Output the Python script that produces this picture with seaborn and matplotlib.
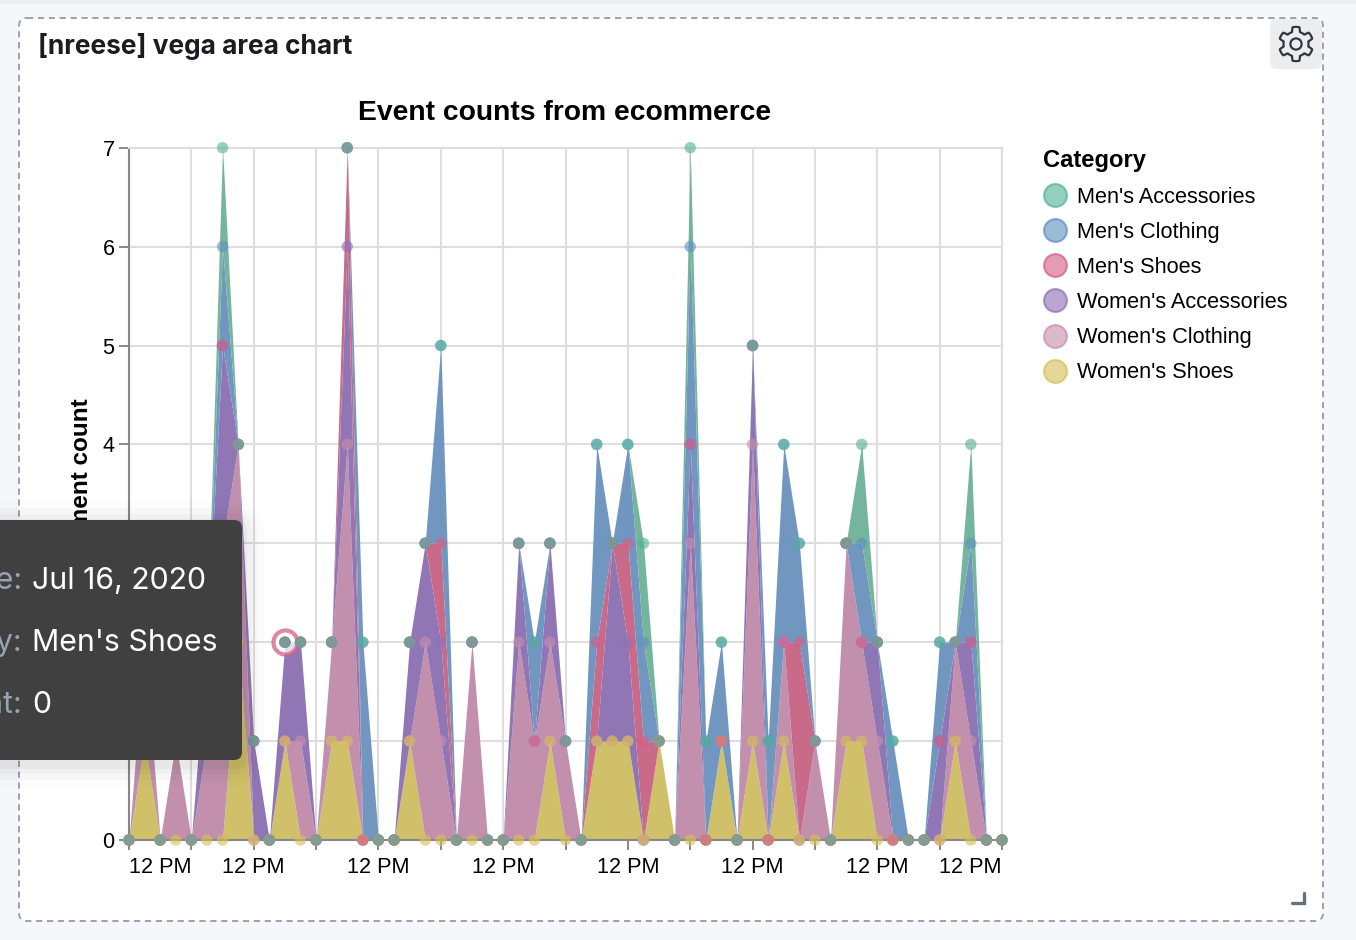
import numpy as np
import pandas as pd
import matplotlib
matplotlib.use('Agg')
import matplotlib.pyplot as plt
from matplotlib.lines import Line2D
from matplotlib.patches import FancyBboxPatch, Circle, Polygon
from matplotlib.colors import to_rgba
import seaborn as sns

categories = ["Men's Accessories", "Men's Clothing", "Men's Shoes",
              "Women's Accessories", "Women's Clothing", "Women's Shoes"]

# one value per 3 hour slot
mens_accessories = [0,0,0,0,0,0,1,0,0,0,0,0,0,0,0,0,0,0,0,0,0,0,0,0,0,0,0,0,0,0,0,0,0,1,0,0,1,0,0,0,0,0,0,0,0,0,0,1,0,0,0,0,0,0,1,0,0]
mens_clothing = [0,0,0,0,0,0,1,0,0,0,0,0,0,0,0,2,0,0,0,0,2,0,0,0,0,0,1,0,0,0,2,0,1,1,0,0,2,1,1,0,0,1,2,1,0,0,0,1,0,1,0,0,1,0,1,0,0]
mens_shoes = [0,0,0,0,0,0,0,0,0,0,0,0,0,0,1,0,0,0,0,0,1,0,0,0,0,0,0,0,0,0,1,0,1,1,0,0,0,0,0,0,0,0,0,2,0,0,0,0,0,0,0,0,0,0,0,0,0]
womens_accessories = [0,0,0,0,0,1,2,0,1,0,1,1,0,0,2,0,0,0,1,1,1,0,0,0,0,1,0,1,0,0,0,2,1,0,0,0,1,0,0,0,1,0,0,0,0,0,0,0,1,0,0,0,1,0,1,0,0]
womens_clothing = [0,1,0,1,0,1,3,2,0,0,0,1,0,1,3,0,0,0,0,2,1,0,2,0,0,2,1,1,1,0,0,0,0,0,0,0,3,0,0,0,3,0,1,0,1,0,2,1,1,0,0,0,0,1,1,0,0]
womens_shoes = [0,1,0,0,0,0,0,2,0,0,1,0,0,1,1,0,0,0,1,0,0,0,0,0,0,0,0,1,0,0,1,1,1,0,1,0,0,0,1,0,1,0,1,0,0,0,1,1,0,0,0,0,0,1,0,0,0]

xtick_slots = [0, 4, 8, 12, 16, 20, 24, 28, 32, 36, 40, 44, 48, 52, 56]
xtick_labels = ['12 PM', '', '12 PM', '', '12 PM', '', '12 PM', '', '12 PM', '', '12 PM', '', '12 PM', '', '12 PM']
ytick_values = [0, 1, 2, 3, 4, 5, 6, 7]
hover_slot = 10
hover_category = "Men's Shoes"

fill_colors = ['#70B29A', '#6C94BF', '#C96585', '#8D72B2', '#C08CAB', '#CFBE64']
dot_colors = ['#54B399', '#6092C0', '#D36086', '#9170B8', '#CA8EAE', '#D6BF57']
W, H = 1356, 940

sns.set_theme(style='white')
plt.rcParams['font.family'] = ['Liberation Sans', 'DejaVu Sans']

df = pd.DataFrame(dict(zip(categories, [mens_accessories, mens_clothing, mens_shoes,
                                        womens_accessories, womens_clothing, womens_shoes])))
stack_order = categories[::-1]
stacked = df[stack_order].cumsum(axis=1)
stacked['slot'] = df.index

# points overlap in this order, not in the stacking order
dot_order = ["Men's Clothing", "Women's Accessories", "Women's Clothing", "Women's Shoes",
             "Men's Shoes", "Men's Accessories"]
long_df = stacked.melt(id_vars='slot', value_vars=dot_order, var_name='Category', value_name='top')

fig = plt.figure(figsize=(W / 100, H / 100), dpi=100, facecolor='#F5F7FA')


def pixel_axes(zorder):
    a = fig.add_axes([0, 0, 1, 1], zorder=zorder)
    a.set_xlim(0, W)
    a.set_ylim(H, 0)
    a.axis('off')
    a.patch.set_alpha(0)
    return a


# panel behind the chart
back = pixel_axes(0)
back.add_patch(FancyBboxPatch((19, 18), 1304, 903, boxstyle='round,pad=0,rounding_size=8',
                              fc='white', ec='#98A2B3', lw=1.4, ls=(0, (3.2, 2.4))))
back.add_patch(FancyBboxPatch((1270, 19), 52, 50, boxstyle='round,pad=0,rounding_size=7',
                              fc='#EBEDF0', ec='none'))
back.plot([0, W], [2, 2], color='#EDEFF3', lw=3)
angles = np.linspace(0, 2 * np.pi, 361)
radius = 14.8 + 2.3 * np.clip(3 * np.cos(6 * (angles - np.pi / 6)), -1, 1)
back.add_patch(Polygon(np.c_[1296 + radius * np.cos(angles), 44 + radius * np.sin(angles)],
                       closed=True, fc='none', ec='#343741', lw=1.6, joinstyle='round'))
back.add_patch(Circle((1296, 44), 5.6, fc='none', ec='#343741', lw=1.6))
back.plot([1292, 1304, 1304], [903, 903, 893], color='#69707D', lw=2.4, solid_joinstyle='miter')
back.text(38, 46, '[nreese] vega area chart', fontsize=18.9, fontweight='bold', family='Inter',
          color='#1A1C21', va='center', ha='left')

ax = fig.add_axes([129 / W, 1 - 840 / H, (1002 - 129) / W, (840 - 147.7) / H], zorder=1)
ax.patch.set_alpha(0)
ax.set_axisbelow(True)
ax.grid(True, color='#DEDEDE', lw=1.5)

for i, cat in enumerate(stack_order):
    lower = stacked[stack_order[i - 1]] if i else 0 * stacked[cat]
    ax.fill_between(stacked['slot'], lower, stacked[cat], color=fill_colors[categories.index(cat)],
                    lw=0, alpha=0.97, zorder=2)

hover_top = stacked.loc[hover_slot, hover_category]
ax.scatter([hover_slot], [hover_top], s=300, fc=to_rgba('white', 0.75), ec=to_rgba(dot_colors[2], 0.75),
           lw=3, clip_on=False, zorder=3)

sns.scatterplot(data=long_df, x='slot', y='top', hue='Category', hue_order=dot_order,
                palette=dict(zip(categories, dot_colors)), s=68, alpha=0.62, linewidth=0,
                legend=False, clip_on=False, zorder=4, ax=ax)

ax.set_xlim(0, 56)
ax.set_ylim(0, 7)
ax.set_xticks(xtick_slots)
ax.set_xticklabels(xtick_labels)
ax.set_yticks(ytick_values)
ax.set_yticklabels([str(v) for v in ytick_values])
ax.tick_params(axis='both', length=7.2, width=1.4, color='#888888', labelsize=15.6, labelcolor='black',
               left=True, bottom=True)
ax.tick_params(axis='x', pad=5)
ax.tick_params(axis='y', pad=3.2)
xlabels = ax.get_xticklabels()
xlabels[0].set_ha('left')
xlabels[-1].set_ha('right')
ax.set_xlabel('')
ax.set_ylabel('')
for side in ['top', 'right']:
    ax.spines[side].set_color('#DEDEDE')
    ax.spines[side].set_linewidth(1.5)
for side in ['left', 'bottom']:
    ax.spines[side].set_color('#888888')
    ax.spines[side].set_linewidth(1.5)
    ax.spines[side].set_zorder(2.5)

back.text(565, 112.5, 'Event counts from ecommerce', fontsize=20.3, fontweight='bold', ha='center', va='center', color='black')
back.text(81.5, 494, 'Document count', fontsize=17.5, fontweight='bold', rotation=90, ha='center', va='center', color='black')

handles = [Line2D([], [], ls='none', marker='o', ms=16.4, mfc=to_rgba(c, 0.62), mec=to_rgba(c, 0.75), mew=1.5, label=cat)
           for c, cat in zip(dot_colors, categories)]
leg = ax.legend(handles=handles, title='Category', loc='upper left', frameon=False,
                bbox_to_anchor=(1039 / W, 1 - 145 / H), bbox_transform=fig.transFigure,
                fontsize=15.7, title_fontproperties={'weight': 'bold', 'size': 17.1},
                labelspacing=0.65, handletextpad=0.45, handlelength=1.1, borderaxespad=0, borderpad=0.2)
leg._legend_box.align = 'left'
leg.get_title().set_color('black')
for t in leg.get_texts():
    t.set_color('black')

# hover tooltip on top of everything, clipped by the left edge of the picture
top = pixel_axes(5)
for grow, a in [(22, 0.012), (16, 0.018), (10, 0.025), (5, 0.035)]:
    top.add_patch(FancyBboxPatch((-30 - grow, 520 - grow + 4), 272 + 2 * grow, 240 + 2 * grow,
                                 boxstyle='round,pad=0,rounding_size=%d' % (8 + grow), fc='black', ec='none', alpha=a))
top.add_patch(FancyBboxPatch((-30, 520), 272, 240, boxstyle='round,pad=0,rounding_size=8', fc='#404040', ec='none'))
for y, key, val in [(581, 'Date:', 'Jul 16, 2020'), (643, 'Category:', "Men's Shoes"), (705, 'Count:', '0')]:
    top.text(22, y, key, fontsize=21.8, family='Inter', color='#98A2B3', ha='right', va='center')
    top.text(32, y, val, fontsize=21.8, family='Inter', color='white', ha='left', va='center')

plt.savefig('out.png', dpi=100, facecolor=fig.get_facecolor())
plt.close()
